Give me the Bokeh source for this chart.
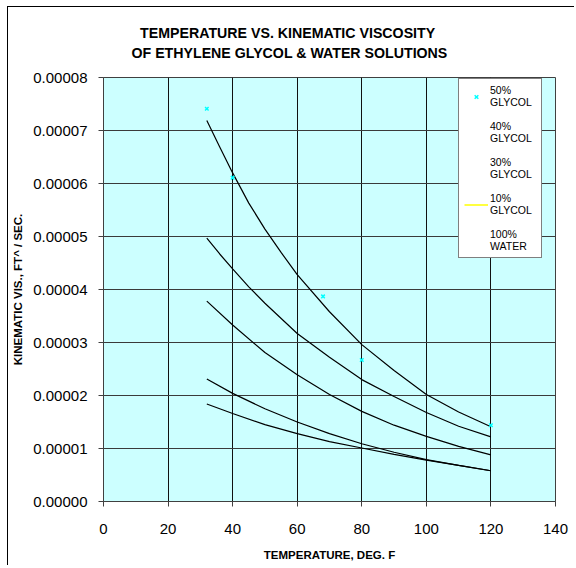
from bokeh.plotting import figure
from bokeh.models import (FixedTicker, PrintfTickFormatter, Title, Legend,
                          LegendItem, Range1d)
from bokeh.embed import file_html
from bokeh.resources import INLINE

# ---- data ----
temps_50 = [32, 36, 40, 45, 50, 55, 60, 70, 80, 90, 100, 110, 120]
glycol50 = [7.19e-5, 6.69e-5, 6.20e-5, 5.63e-5, 5.14e-5, 4.70e-5, 4.28e-5, 3.58e-5,
            2.96e-5, 2.47e-5, 2.02e-5, 1.69e-5, 1.41e-5]
temps_40 = [32, 36, 40, 45, 50, 60, 70, 80, 90, 100, 110, 120]
glycol40 = [4.97e-5, 4.67e-5, 4.39e-5, 4.05e-5, 3.74e-5, 3.17e-5, 2.72e-5, 2.30e-5,
            1.98e-5, 1.68e-5, 1.42e-5, 1.22e-5]
temps = [32, 40, 50, 60, 70, 80, 90, 100, 110, 120]
glycol30 = [3.78e-5, 3.33e-5, 2.81e-5, 2.39e-5, 2.02e-5, 1.70e-5, 1.44e-5, 1.23e-5, 1.04e-5, 0.88e-5]
glycol10 = [2.31e-5, 2.04e-5, 1.75e-5, 1.50e-5, 1.28e-5, 1.09e-5, 0.93e-5, 0.79e-5, 0.68e-5, 0.58e-5]
water100 = [1.84e-5, 1.66e-5, 1.45e-5, 1.28e-5, 1.13e-5, 1.01e-5, 0.89e-5, 0.78e-5, 0.68e-5, 0.58e-5]

pts_temp = [32, 40, 68, 80, 120]
pts_glycol50 = [7.41e-5, 6.11e-5, 3.87e-5, 2.67e-5, 1.44e-5]

x_ticks = [0, 20, 40, 60, 80, 100, 120, 140]
y_ticks = [0, 1e-5, 2e-5, 3e-5, 4e-5, 5e-5, 6e-5, 7e-5, 8e-5]

title_line1 = "TEMPERATURE VS. KINEMATIC VISCOSITY"
title_line2 = "OF ETHYLENE GLYCOL & WATER SOLUTIONS"

FONT = "Liberation Sans"

p = figure(width=566, height=558, output_backend="svg", toolbar_location=None,
           x_range=Range1d(0, 140), y_range=Range1d(0, 8e-5),
           min_border_left=95, min_border_right=19, min_border_top=70,
           min_border_bottom=64)
p.frame_width = 452
p.frame_height = 424
p.background_fill_color = "#CCFFFF"
p.border_fill_color = "white"
p.outline_line_color = "#404040"
p.outline_line_width = 1
p.styles = {"border-left": "1px solid #000", "border-top": "1px solid #000",
            "margin-left": "7px", "margin-top": "6px"}

p.xaxis.ticker = FixedTicker(ticks=x_ticks)
p.yaxis.ticker = FixedTicker(ticks=y_ticks)
p.yaxis.formatter = PrintfTickFormatter(format="%.5f")
for ax in (p.xaxis[0], p.yaxis[0]):
    ax.axis_line_color = "#404040"
    ax.major_tick_line_color = "#404040"
    ax.major_tick_out = 5
    ax.major_tick_in = 0
    ax.minor_tick_line_color = None
    ax.major_label_text_font = FONT
    ax.major_label_text_font_size = "15px"
    ax.major_label_text_color = "black"
    ax.axis_label_text_font = FONT
    ax.axis_label_text_font_style = "bold"
    ax.axis_label_text_font_size = "11.5px"
    ax.axis_label_text_color = "black"
p.xaxis.axis_label = "TEMPERATURE, DEG. F"
p.yaxis.axis_label = "KINEMATIC VIS., FT^ / SEC."
p.xaxis.major_label_standoff = 17
p.yaxis.major_label_standoff = 11
p.xaxis.axis_label_standoff = 12
p.yaxis.axis_label_standoff = 6

p.xgrid.grid_line_color = "#111111"
p.ygrid.grid_line_color = "#3a3a3a"

# series renderers (for the legend)
r10 = p.line(temps, glycol10, line_color="#FFFF00", line_width=1.5, visible=False)
r40 = p.line(temps_40, glycol40, line_alpha=0, visible=False)
r30 = p.line(temps, glycol30, line_alpha=0, visible=False)
rw = p.line(temps, water100, line_alpha=0, visible=False)

# trend curves
p.line(temps_50, glycol50, line_color="black", line_width=1.2)
p.line(temps_40, glycol40, line_color="black", line_width=1.2)
for ys in (glycol30, glycol10, water100):
    p.line(temps, ys, line_color="black", line_width=1.2)

r50 = p.scatter(pts_temp, pts_glycol50, marker="x", size=5, line_color="#00FFFF",
                line_width=1.5)

legend = Legend(items=[
    LegendItem(label="50%\nGLYCOL", renderers=[r50]),
    LegendItem(label="40%\nGLYCOL", renderers=[r40]),
    LegendItem(label="30%\nGLYCOL", renderers=[r30]),
    LegendItem(label="10%\nGLYCOL", renderers=[r10]),
    LegendItem(label="100%\nWATER", renderers=[rw]),
], location=(355, 243))
legend.label_text_font = FONT
legend.label_text_font_size = "10.5px"
legend.label_text_line_height = 1.27
legend.label_text_color = "black"
legend.padding = 5
legend.spacing = 12
legend.glyph_width = 24
legend.glyph_height = 13
legend.label_standoff = 2
legend.label_width = 46
legend.border_line_color = "black"
legend.border_line_width = 1
legend.background_fill_color = "white"
legend.background_fill_alpha = 1
legend.inactive_fill_alpha = 0
p.add_layout(legend)

# title: spacer panel next to the frame, then line 2, then line 1
spacer = Title(text=" ", text_font=FONT, text_font_size="10px", standoff=4)
t2 = Title(text=title_line2, align="left", offset=28, standoff=0,
           text_font=FONT, text_font_style="bold", text_font_size="14.2px",
           text_color="black")
t1 = Title(text=title_line1, align="left", offset=36.6, standoff=3,
           text_font=FONT, text_font_style="bold", text_font_size="14.2px",
           text_color="black")
p.add_layout(spacer, "above")
p.add_layout(t2, "above")
p.add_layout(t1, "above")

open("out.html", "w").write(file_html(p, INLINE))
